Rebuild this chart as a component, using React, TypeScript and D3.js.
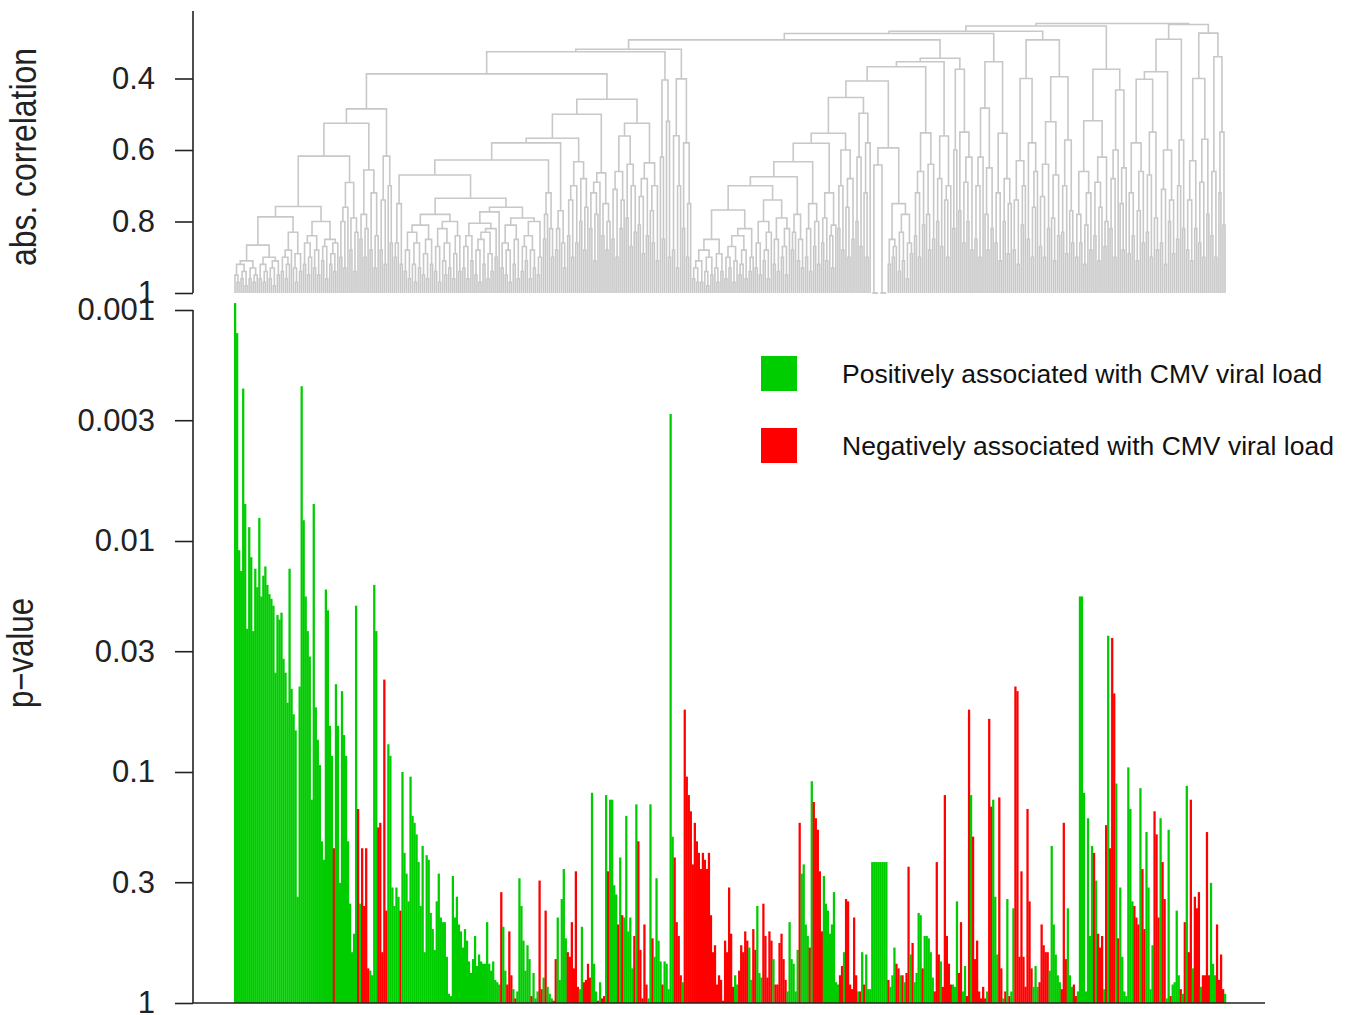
import React, { useEffect, useRef } from 'react'
import * as d3 from 'd3'

// -log10(p) for every feature, left to right; the sign is the direction of the
// association with CMV viral load (+ positive / green, - negative / red)
const signedLogP1 = [
  3.03, 2.90, 1.96, 1.87, 2.66, 2.16, 1.62, 2.06, 1.93, 1.61,
  1.88, 1.80, 2.10, 1.76, 1.85, 1.89, 1.81, 1.77, 1.75, 1.72,
  1.43, 1.68, 1.66, 1.69, 1.49, 1.43, 1.30, 1.88, 1.36, 1.25,
  1.18, 0.46, 1.37, 2.67, 2.09, 1.76, 1.61, 1.50, 0.88, 2.16,
  1.28, 1.14, 1.03, 0.70, 0.62, 1.79, 1.70, 1.20, 1.07, -0.67,
  1.38, 1.20, 0.52, 1.35, 1.16, 1.07, 0.70, 0.43, 0.22, 0.30,
  1.72, -0.84, 0.43, -0.67, -0.42, -0.67, -0.15, 0.14, 0.12, 1.81,
  1.61, -0.76, -0.78, -0.22, -1.40, -0.40, 1.12, 1.07, 0.50, 0.42,
]
const signedLogP2 = [
  0.50, 0.46, -0.40, 1.00, 0.65, 0.56, 0.44, 0.98, 0.81, 0.78,
  0.73, 0.61, 0.42, 0.68, 0.22, 0.64, 0.62, 0.39, 0.32, 0.23,
  0.44, 0.56, 0.37, 0.35, 0.35, 0.20, 0.04, 0.03, 0.55, 0.37,
  0.46, 0.34, 0.31, 0.24, 0.32, 0.27, 0.18, 0.13, 0.19, 0.29,
  0.16, 0.21, 0.18, 0.17, 0.17, 0.35, 0.17, 0.14, 0.18, 0.10, 0.09, 0.08,
  -0.48, 0.33, 0.14, -0.08, -0.31, -0.12, 0.06, -0.02, 0.05, 0.54,
  0.42, 0.27, 0.14, 0.25, 0.19, -0.03, 0.13, 0.02, 0.05, -0.53,
  -0.06, 0.11, -0.40, 0.07, 0.04, 0.02, -0.01, -0.19, 0.37, 0.10,
  0.45, 0.58, 0.28, -0.22,
]
const signedLogP3 = [
  -0.20, -0.35, -0.15, -0.57, -0.07, 0.06, 0.33, -0.09, -0.10, -0.17,
  -0.11, 0.91, 0.17, 0.05, -0.01, 0.09, -0.02, -0.03, 0.90, -0.57,
  0.88, 0.88, 0.51, 0.47, -0.34, 0.63, -0.38, 0.37, 0.81, 0.31,
  0.37, 0.15, -0.29, 0.86, -0.70, -0.23, -0.02, -0.34, -0.08, 0.02,
  0.86, -0.28, 0.20, 0.54, 0.27, 0.18, -0.08, 0.18, 0.17, 0.06,
  2.55, 0.72, -0.63, -0.35, -0.29, -0.12, 0.09, -1.27, -0.98, -0.90,
  -0.83, -0.60, -0.78, -0.70, -0.65, -0.58, -0.65, -0.62, -0.58, -0.65,
  -0.38, -0.22, -0.25, -0.08, -0.12, -0.10, -0.01, -0.27, -0.22, -0.50,
  -0.30, -0.07, 0.12, 0.08,
]
const signedLogP4 = [
  -0.14, -0.25, -0.22, -0.31, -0.27, 0.24, 0.10, -0.32, -0.23, 0.42,
  0.13, 0.11, -0.43, -0.29, -0.11, -0.31, -0.27, 0.19, -0.08, -0.08,
  -0.26, -0.30, -0.19, -0.10, 0.05, 0.35, 0.19, 0.17, 0.05, 0.23,
  -0.78, 0.56, 0.60, 0.34, 0.29, -0.24, 0.96, -0.87, -0.80, -0.75,
  -0.57, -0.31, 0.55, 0.43, 0.40, 0.30, 0.34, 0.48, 0.09, 0.08,
  -0.12, -0.16, 0.22, -0.45, -0.44, -0.08, -0.06, -0.37, -0.12, 0.05,
  -0.05, 0.22, -0.08, 0.21, 0.06, 0.06, 0.61, 0.61, 0.61, 0.61,
  0.61, 0.61, 0.61, 0.61, -0.10, 0.07, 0.12, 0.24,
  -0.17, -0.15, 0.12, -0.12, 0.09,
]
const signedLogP5 = [
  -0.13, -0.59, 0.21, -0.26, 0.09, 0.13, 0.39, 0.38, -0.15, 0.29,
  0.29, 0.28, 0.22, 0.11, -0.05, -0.61, -0.21, 0.18, -0.07, -0.90,
  -0.29, -0.17, -0.08, 0.08, 0.07, 0.44, -0.13, -0.35, 0.05, 0.16,
  -0.03, -1.27, 0.90, -0.72, -0.19, -0.27, -0.05, -0.02, -0.07, -0.02,
  0.05, -1.23, -0.85, 0.88, 0.46, 0.21, -0.89, -0.15, 0.02, -0.05,
  0.45, -0.03, 0.05, 0.41, -1.37, -1.35, -0.20, -0.57, -0.20, -0.07,
  -0.84, -0.44, -0.15, 0.07, 0.16, 0.07, -0.09, -0.34, -0.25, -0.22,
  -0.22, 0.14, 0.68, 0.34, 0.21, 0.12, 0.09, -0.06, -0.78, -0.19,
  0.41, 0.12, 0.07, -0.08, -0.03,
]
const signedLogP6 = [
  0.05, 1.76, 1.76, 0.91, 0.05, 0.80, 0.29, 0.68, -0.65, 0.53,
  -0.30, -0.24, -0.29, 0.06, -0.77, 1.59, -0.67, -1.58, -1.34, 0.95,
  -0.28, 0.50, 0.20, 0.05, 0.03, 1.02, 0.84, 0.44, -0.42, -0.37,
  -0.34, 0.93, -0.58, -0.32, 0.74, 0.50, 0.06, 0.25, -0.83, -0.73,
  -0.37, 0.80, -0.61, -0.45, 0.02, 0.75, -0.03, 0.08, 0.09, 0.40,
  0.12, -0.06, 0.04, -0.35, 0.94, -0.22, -0.88, 0.15, -0.46, -0.41,
  -0.48, 0.07, -0.12, -0.12, -0.74, -0.12, 0.52, 0.17, 0.12, -0.34,
  -0.10, -0.21, -0.06, 0.04,
]
const signedLogP = [...signedLogP1, ...signedLogP2, ...signedLogP3, ...signedLogP4, ...signedLogP5, ...signedLogP6]

// dendrogram: abs. correlation at which leaf i and leaf i+1 are joined
const joinCorrLeft = [
  0.95, 0.97, 0.92, 0.96, 0.94, 0.98, 0.91, 0.96, 0.93, 0.97,
  0.95, 0.866, 0.96, 0.92, 0.97, 0.94, 0.90, 0.96, 0.93, 0.98,
  0.91, 0.95, 0.787, 0.94, 0.90, 0.96, 0.92, 0.88, 0.83, 0.93,
  0.97, 0.89, 0.94, 0.758, 0.92, 0.86, 0.95, 0.90, 0.84, 0.93,
  0.88, 0.95, 0.80, 0.91, 0.87, 0.96, 0.85, 0.92, 0.89, 0.94,
  0.86, 0.617, 0.90, 0.80, 0.93, 0.76, 0.691, 0.88, 0.79, 0.94,
  0.83, 0.525, 0.85, 0.78, 0.90, 0.82, 0.656, 0.88, 0.72, 0.93,
  0.84, 0.485, 0.88, 0.74, 0.92, 0.617, 0.70, 0.86, 0.387,
  0.90, 0.86, 0.75, 0.92, 0.67,
  0.94, 0.88, 0.96, 0.83, 0.92, 0.97, 0.86, 0.93, 0.81, 0.95,
  0.89, 0.96, 0.85, 0.92, 0.78, 0.94, 0.87, 0.97, 0.82, 0.91,
  0.95, 0.86, 0.93, 0.80, 0.96, 0.89, 0.84, 0.94, 0.735,
  0.93, 0.87, 0.96, 0.84, 0.91, 0.805, 0.95, 0.88, 0.97, 0.85,
  0.92, 0.83, 0.96, 0.89, 0.94, 0.82, 0.90, 0.773, 0.76, 0.93,
  0.86, 0.95, 0.88, 0.97, 0.81, 0.92, 0.85, 0.96, 0.79, 0.94,
  0.87, 0.91, 0.84, 0.96, 0.88, 0.93, 0.80, 0.95, 0.90, 0.628,
  0.85, 0.78, 0.72, 0.82, 0.90, 0.58,
  0.88, 0.82, 0.77, 0.86, 0.93, 0.567,
  0.84, 0.74, 0.90, 0.70, 0.86, 0.633, 0.80, 0.68, 0.88, 0.76, 0.50,
  0.82, 0.72, 0.91, 0.78, 0.69, 0.664, 0.84, 0.75, 0.88, 0.80, 0.458,
  0.85, 0.71, 0.90, 0.66, 0.82, 0.74, 0.561, 0.79, 0.64, 0.87, 0.70, 0.83, 0.525,
  0.81, 0.73, 0.89, 0.68, 0.84, 0.636, 0.77, 0.86, 0.70, 0.91, 0.325,
  0.62, 0.85, 0.404, 0.52, 0.90, 0.318,
  0.88, 0.56, 0.93, 0.70, 0.401, 0.82, 0.58, 0.90, 0.75, 0.292,
]
const joinCorrMiddle = [
  0.96, 0.93, 0.97, 0.91, 0.97, 0.88, 0.94, 0.98, 0.90, 0.95, 0.85, 0.93,
  0.97, 0.89, 0.94, 0.768, 0.96, 0.90, 0.93, 0.87, 0.97, 0.91,
  0.84, 0.95, 0.92, 0.88, 0.96, 0.82, 0.94, 0.90, 0.70,
  0.93, 0.86, 0.95, 0.80, 0.91, 0.88, 0.96, 0.83, 0.74, 0.92,
  0.85, 0.94, 0.79, 0.90, 0.87, 0.95, 0.82, 0.675,
  0.88, 0.83, 0.78, 0.91, 0.85, 0.93, 0.633,
  0.90, 0.82, 0.94, 0.75, 0.87, 0.80, 0.92, 0.581,
  0.86, 0.79, 0.91, 0.72, 0.84, 0.93, 0.81, 0.553,
  0.82, 0.70, 0.88, 0.60, 0.76, 0.90, 0.68, 0.85, 0.453,
  0.80, 0.62, 0.87, 0.497, 0.72, 0.90, 0.58, 0.407,
  1, 1, 1, 0.642, 1, 1, 1, 0.594,
  0.92, 0.85, 0.90, 0.87, 0.75, 0.94, 0.83, 0.91, 0.78, 0.96, 0.86, 0.89, 0.367,
  0.84, 0.72, 0.90, 0.66, 0.81, 0.552, 0.78, 0.88, 0.64, 0.85, 0.353,
  0.80, 0.68, 0.87, 0.561, 0.74, 0.90, 0.70, 0.3435,
  0.82, 0.60, 0.374, 0.77, 0.55, 0.86, 0.69, 0.80, 0.62, 0.88, 0.274,
]
const joinCorrRight = [
  0.85, 0.70, 0.90, 0.62, 0.483, 0.78, 0.88, 0.65, 0.82, 0.353,
  0.86, 0.72, 0.91, 0.553, 0.80, 0.68, 0.89, 0.75, 0.268,
  0.88, 0.74, 0.92, 0.63, 0.81, 0.70, 0.40, 0.85, 0.58, 0.90, 0.76, 0.66, 0.292,
  0.87, 0.73, 0.90, 0.64, 0.82, 0.521, 0.79, 0.91, 0.67, 0.84, 0.395,
  0.83, 0.70, 0.89, 0.572, 0.77, 0.86, 0.253,
  0.90, 0.78, 0.86, 0.66, 0.92, 0.81, 0.72, 0.88, 0.518, 0.84,
  0.69, 0.91, 0.76, 0.62, 0.87, 0.80, 0.374,
  0.82, 0.68, 0.90, 0.60, 0.432, 0.75, 0.88, 0.65, 0.246,
  0.89, 0.72, 0.84, 0.58, 0.91, 0.77, 0.66, 0.86, 0.402,
  0.83, 0.67, 0.90, 0.55, 0.79, 0.88, 0.381,
  0.86, 0.71, 0.92, 0.60, 0.80, 0.74, 0.89, 0.29,
  0.85, 0.70, 0.572, 0.82, 0.249,
  0.88, 0.74, 0.91, 0.63, 0.82, 0.40, 0.86, 0.69, 0.90, 0.57, 0.78, 0.273,
  0.84, 0.66, 0.90, 0.339, 0.72, 0.55, 0.81,
]
const joinCorr = [...joinCorrLeft, ...joinCorrMiddle, ...joinCorrRight]

const corrTicks = [0.4, 0.6, 0.8, 1]
const pTicks = [0.001, 0.003, 0.01, 0.03, 0.1, 0.3, 1]
const legendItems = [
  { label: 'Positively associated with CMV viral load', color: '#00cd00' },
  { label: 'Negatively associated with CMV viral load', color: '#ff0000' },
]

const FONT = "'Liberation Sans', Arial, Helvetica, sans-serif"

type TreeNode = { x: number; h: number; left?: TreeNode; right?: TreeNode }

// rebuild the tree: split a run of leaves where neighbours join lowest
function buildTree(lo: number, hi: number, cx: (i: number) => number): TreeNode {
  if (lo === hi) return { x: cx(lo), h: 1 }
  let k = lo
  for (let i = lo; i < hi; i++) if (joinCorr[i] < joinCorr[k]) k = i
  const left = buildTree(lo, k, cx)
  const right = buildTree(k + 1, hi, cx)
  return { x: (left.x + right.x) / 2, h: joinCorr[k], left, right }
}

export default function App() {
  const ref = useRef<SVGSVGElement>(null)

  useEffect(() => {
    const svg = d3.select(ref.current)
    svg.selectAll('*').remove()

    const n = signedLogP.length
    const x = d3.scaleBand<number>().domain(d3.range(n)).range([234, 1226]).padding(0)
    const yP = d3.scaleLog().domain([1, 0.001]).range([1003, 310])
    const yC = d3.scaleLinear().domain([1, 0.4]).range([293, 78.5])
    const cx = (i: number) => (x(i) as number) + x.bandwidth() / 2

    // dendrogram
    const root = buildTree(0, n - 1, cx)
    const links: string[] = []
    const walk = (node: TreeNode) => {
      if (!node.left || !node.right) return
      const l = node.left, r = node.right
      links.push(`M${l.x},${yC(l.h)}V${yC(node.h)}H${r.x}V${yC(r.h)}`)
      walk(l)
      walk(r)
    }
    walk(root)
    svg.append('g').selectAll('path').data(links).join('path')
      .attr('d', d => d).attr('fill', 'none').attr('stroke', '#c8c8c8').attr('stroke-width', 1.6)

    // bars
    svg.append('g').selectAll('rect').data(signedLogP).join('rect')
      .attr('x', (d, i) => x(i) as number)
      .attr('width', x.bandwidth() + 0.25)
      .attr('y', d => yP(Math.pow(10, -Math.abs(d))))
      .attr('height', d => 1003 - yP(Math.pow(10, -Math.abs(d))))
      .attr('fill', d => (d < 0 ? legendItems[1].color : legendItems[0].color))

    // axes
    const styleAxis = (g: d3.Selection<SVGGElement, unknown, null, undefined>) => {
      g.select('.domain').remove()
      g.attr('font-size', 31).attr('font-family', FONT)
      g.selectAll('.tick line').attr('stroke', '#222').attr('stroke-width', 1.6)
      g.selectAll('.tick text').attr('fill', '#222')
    }
    const gC = svg.append('g').attr('transform', 'translate(193,0)')
      .call(d3.axisLeft(yC).tickValues(corrTicks).tickSize(18).tickPadding(20).tickFormat(d => String(d)))
    styleAxis(gC)
    const gP = svg.append('g').attr('transform', 'translate(193,0)')
      .call(d3.axisLeft(yP).tickValues(pTicks).tickSize(18).tickPadding(20).tickFormat(d => String(d)))
    styleAxis(gP)

    svg.append('line').attr('x1', 193).attr('x2', 193).attr('y1', 11).attr('y2', 293)
      .attr('stroke', '#222').attr('stroke-width', 1.6)
    svg.append('line').attr('x1', 193).attr('x2', 193).attr('y1', 310).attr('y2', 1003)
      .attr('stroke', '#222').attr('stroke-width', 1.6)
    svg.append('line').attr('x1', 193).attr('x2', 1265).attr('y1', 1003).attr('y2', 1003)
      .attr('stroke', '#222').attr('stroke-width', 1.6)

    // axis titles
    svg.append('text').text('abs. correlation')
      .attr('transform', 'translate(36,157) rotate(-90)')
      .attr('text-anchor', 'middle').attr('font-family', FONT).attr('font-size', 36)
      .attr('textLength', 218).attr('lengthAdjust', 'spacingAndGlyphs').attr('fill', '#222')
    svg.append('text').text('p\u2212value')
      .attr('transform', 'translate(33,653) rotate(-90)')
      .attr('text-anchor', 'middle').attr('font-family', FONT).attr('font-size', 36)
      .attr('textLength', 110).attr('lengthAdjust', 'spacingAndGlyphs').attr('fill', '#222')

    // legend
    const lg = svg.append('g').selectAll('g').data(legendItems).join('g')
      .attr('transform', (d, i) => `translate(761,${356 + i * 72})`)
    lg.append('rect').attr('width', 36).attr('height', 35).attr('fill', d => d.color)
    lg.append('text').text(d => d.label).attr('x', 81).attr('y', 27)
      .attr('font-family', FONT).attr('font-size', 26.5).attr('fill', '#111')
  }, [])

  return (
    <svg ref={ref} width={1350} height={1015}
      style={{ position: 'absolute', left: 0, top: 0, background: '#fff', display: 'block' }} />
  )
}
